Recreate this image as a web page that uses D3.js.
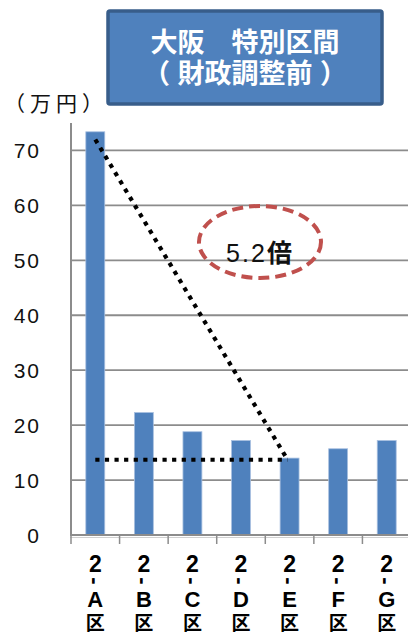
<!DOCTYPE html>
<html><head><meta charset="utf-8">
<script src="https://cdn.jsdelivr.net/npm/d3@7"></script>
<style>
html,body{margin:0;padding:0;background:#fff;}
svg{display:block;}
text{font-family:"Liberation Sans","Noto Sans CJK JP",sans-serif;}
</style></head>
<body>
<script>
const categories = ["A","B","C","D","E","F","G"];
const values = [73.4, 22.3, 18.8, 17.2, 14.0, 15.7, 17.2];
const yTicks = [0,10,20,30,40,50,60,70];
const titleLines = ["大阪　特別区間","（ 財政調整前 ）"];
const unitLabel = "（万円）";
const ratioLabel = "5.2";
const ratioUnit = "倍";
// annotation line endpoints (category, value)
const diagLine = [["A",72.0],["E",13.7]];
const flatLine = [["A",13.7],["E",13.7]];

const W = 408, H = 635;
const svg = d3.select("body").append("svg").attr("width",W).attr("height",H);

const x = d3.scaleBand().domain(categories).range([71,411]).paddingInner(0.61).paddingOuter(0.305);
const y = d3.scaleLinear().domain([0,75]).range([535,123]);

// gridlines
svg.append("g").selectAll("line").data(yTicks.filter(d=>d>0)).join("line")
  .attr("x1",71).attr("x2",W).attr("y1",d=>y(d)).attr("y2",d=>y(d))
  .attr("stroke","#8c8c8c").attr("stroke-width",1.8);

// bars
svg.append("g").selectAll("rect").data(values).join("rect")
  .attr("x",(d,i)=>x(categories[i])).attr("width",x.bandwidth())
  .attr("y",d=>y(d)).attr("height",d=>y(0)-y(d))
  .attr("fill","#4F81BD").attr("stroke","#a9c0e0").attr("stroke-width",0.8);

// y axis line
svg.append("line").attr("x1",71).attr("x2",71).attr("y1",y(75)).attr("y2",y(0)+1)
  .attr("stroke","#8c8c8c").attr("stroke-width",2);
// x axis line
svg.append("line").attr("x1",70).attr("x2",W).attr("y1",y(0)).attr("y2",y(0))
  .attr("stroke","#8c8c8c").attr("stroke-width",1.8);
svg.append("line").attr("x1",70).attr("x2",W).attr("y1",y(0)+2.5).attr("y2",y(0)+2.5)
  .attr("stroke","#d0d0d0").attr("stroke-width",1);
// x ticks at band boundaries
const step = x.step();
svg.append("g").selectAll("line").data(d3.range(categories.length+1)).join("line")
  .attr("x1",i=>71+i*step).attr("x2",i=>71+i*step)
  .attr("y1",y(0)).attr("y2",y(0)+9)
  .attr("stroke","#8c8c8c").attr("stroke-width",1.5);

// y tick labels
svg.append("g").selectAll("text").data(yTicks).join("text")
  .attr("x",41).attr("y",d=>y(d)+8).attr("text-anchor","end")
  .attr("font-size",21).attr("letter-spacing",2).attr("fill","#111")
  .text(d=>d);

// unit label
svg.append("text").attr("x",4).attr("y",111).attr("font-size",21).attr("letter-spacing",5)
  .attr("fill","#111").attr("font-family","Noto Sans CJK JP").text(unitLabel);

// x labels (vertical stacking)
const xl = svg.append("g").selectAll("g").data(categories).join("g")
  .attr("transform",d=>`translate(${x(d)+x.bandwidth()/2},0)`);
xl.append("text").attr("y",572).attr("text-anchor","middle").attr("font-size",23)
  .attr("font-weight","bold").text("2");
xl.append("text").attr("text-anchor","middle").attr("font-size",22).attr("font-weight","bold")
  .attr("transform","translate(-1,581) rotate(90)").attr("dy","0.3em").text("-");
xl.append("text").attr("y",607).attr("text-anchor","middle").attr("font-size",22)
  .attr("font-weight","bold").text(d=>d);
xl.append("text").attr("y",630).attr("text-anchor","middle").attr("font-size",19)
  .attr("font-weight","bold").attr("font-family","Noto Sans CJK JP").text("区");

// dotted annotation lines
const cx = c => x(c)+x.bandwidth()/2;
[diagLine, flatLine].forEach(seg=>{
  svg.append("line")
    .attr("x1",cx(seg[0][0])).attr("y1",y(seg[0][1]))
    .attr("x2",cx(seg[1][0])-2).attr("y2",y(seg[1][1]))
    .attr("stroke","#000").attr("stroke-width",4.2).attr("stroke-dasharray","4.2,5.4");
});

// ellipse
svg.append("ellipse").attr("cx",260).attr("cy",242).attr("rx",61).attr("ry",36)
  .attr("fill","none").attr("stroke","#C0504D").attr("stroke-width",4)
  .attr("stroke-dasharray","11,6");
const rt = svg.append("text").attr("x",259).attr("y",262).attr("text-anchor","middle")
  .attr("font-size",25).attr("fill","#111");
rt.append("tspan").attr("letter-spacing",2).text(ratioLabel);
rt.append("tspan").attr("font-weight","bold").attr("font-family","Noto Sans CJK JP").text(ratioUnit);

// title box
svg.append("rect").attr("x",108).attr("y",11).attr("width",274).attr("height",93).attr("rx",2)
  .attr("fill","#4F81BD").attr("stroke","#385D8A").attr("stroke-width",3.5);
svg.append("g").selectAll("text").data(titleLines).join("text")
  .attr("x",245).attr("y",(d,i)=>52+i*31).attr("text-anchor","middle")
  .attr("font-size",27).attr("font-weight","bold").attr("fill","#fff")
  .attr("font-family","Noto Sans CJK JP").text(d=>d);
</script>
</body></html>
